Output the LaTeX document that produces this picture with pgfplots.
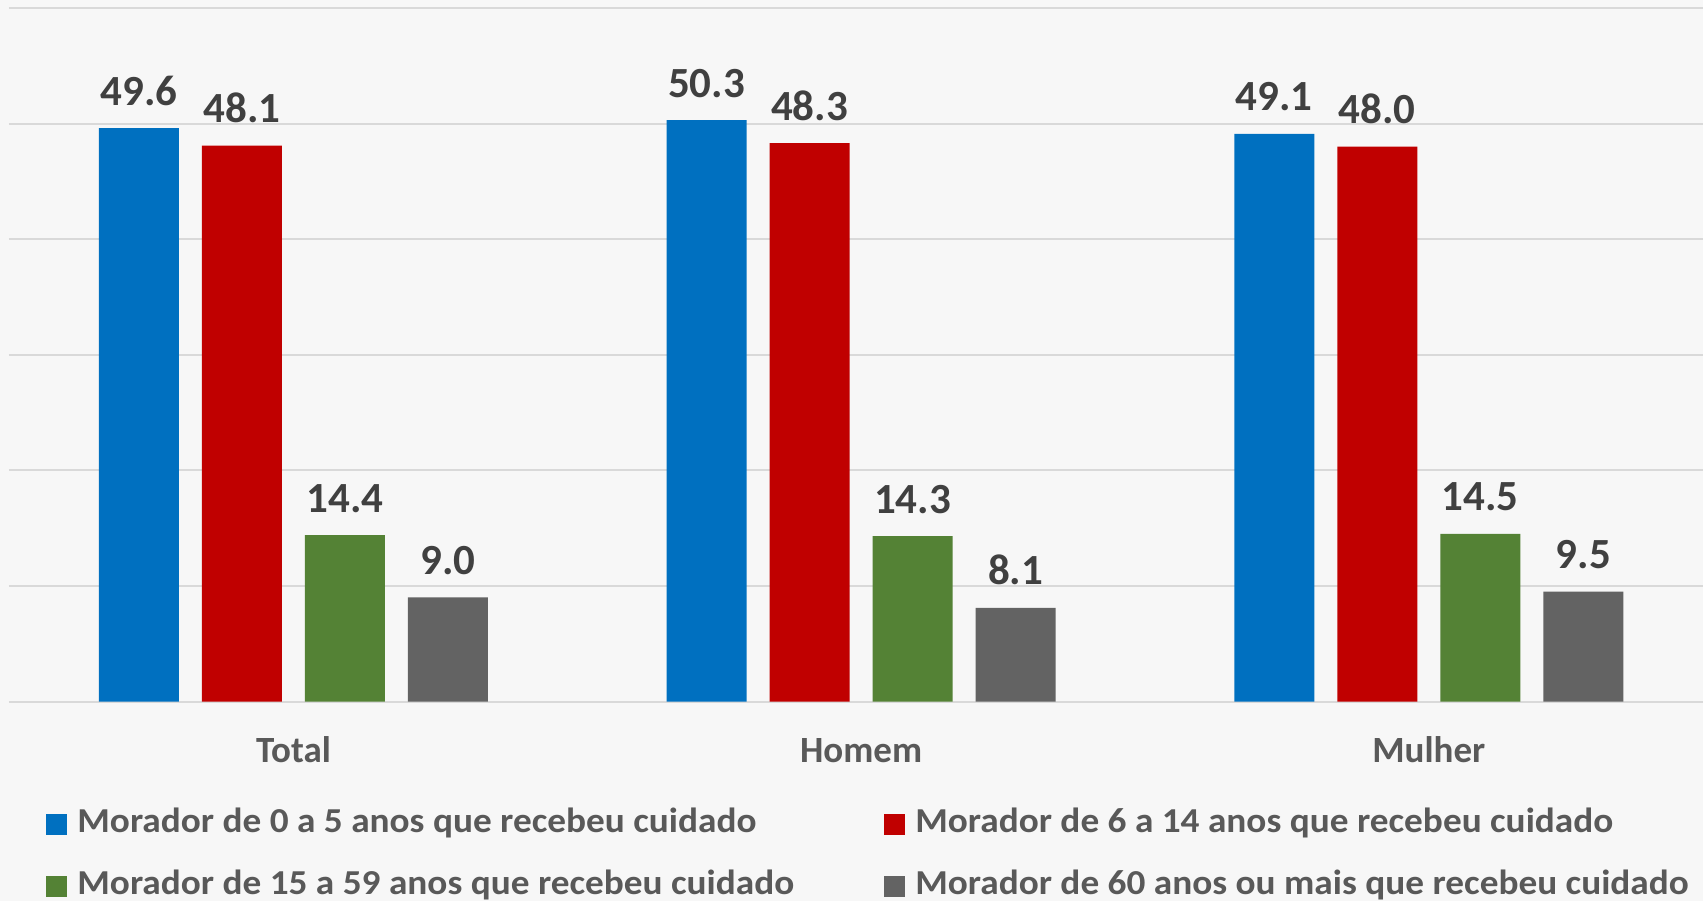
\documentclass[border=0pt]{standalone}
\usepackage{fontspec}
\setmainfont{Carlito}
\newfontfamily\widefont[FakeStretch=1.065]{Carlito}
\usepackage{pgfplots}
\pgfplotsset{compat=1.18}
\definecolor{bg}{HTML}{F7F7F7}
\definecolor{gridc}{HTML}{D9D9D9}
\definecolor{cblue}{HTML}{0070C0}
\definecolor{cred}{HTML}{C00000}
\definecolor{cgreen}{HTML}{548235}
\definecolor{cgray}{HTML}{636363}
\definecolor{lab}{HTML}{404040}
\definecolor{txt}{HTML}{595959}
\begin{document}
\begin{tikzpicture}
\path[use as bounding box, fill=bg] (-4.5pt,-99.5pt) rectangle (847pt,350.75pt);
\begin{axis}[
  at={(0,0)}, anchor=south west,
  scale only axis, width=847pt, height=346.75pt,
  xmin=-0.501, xmax=2.483, ymin=0, ymax=60,
  axis line style={draw=none},
  ytick={0,10,...,60}, yticklabels={},
  major tick length=0pt,
  ymajorgrids, grid style={gridc, line width=1pt},
  xtick={0,1,2}, xticklabels={Total,Homem,Mulher},
  xticklabel style={font=\fontsize{18.5}{22}\selectfont\bfseries, text=txt, anchor=base, yshift=-30.5pt},
  ybar=11.5pt, bar width=40pt,
  every axis plot/.append style={draw=none},
  /pgf/number format/assume math mode=true,
  nodes near coords={\pgfmathprintnumber[fixed,fixed zerofill,precision=1]{\pgfplotspointmeta}},
  nodes near coords style={font=\fontsize{21.5}{25}\selectfont\bfseries, text=lab, anchor=base, yshift=11.5pt, inner sep=0pt},
  legend columns=2,
  legend cell align=left,
  legend image code/.code={\fill[#1] (0pt,-5.25pt) rectangle (10.5pt,5.25pt);},
  legend style={at={(axis description cs:0,0)}, anchor=north west, xshift=18.5pt, yshift=-53.5pt,
    draw=none, fill=none, inner sep=0pt, row sep=15pt,
    font=\widefont\fontsize{17.5}{20}\selectfont\bfseries, text=txt,
    nodes={inner sep=0pt, text height=12pt, text depth=4pt},
    /tikz/every odd column/.append style={column sep=5pt},
    /tikz/every even column/.append style={column sep=45pt}},
]
\addplot[fill=cblue] coordinates {(0,49.6) (1,50.3) (2,49.1)};
\addplot[fill=cred] coordinates {(0,48.1) (1,48.3) (2,48.0)};
\addplot[fill=cgreen] coordinates {(0,14.4) (1,14.3) (2,14.5)};
\addplot[fill=cgray] coordinates {(0,9.0) (1,8.1) (2,9.5)};
\legend{Morador de 0 a 5 anos que recebeu cuidado, Morador de 6 a 14 anos que recebeu cuidado, Morador de 15 a 59 anos que recebeu cuidado, Morador de 60 anos ou mais que recebeu cuidado}
\end{axis}
\end{tikzpicture}
\end{document}
